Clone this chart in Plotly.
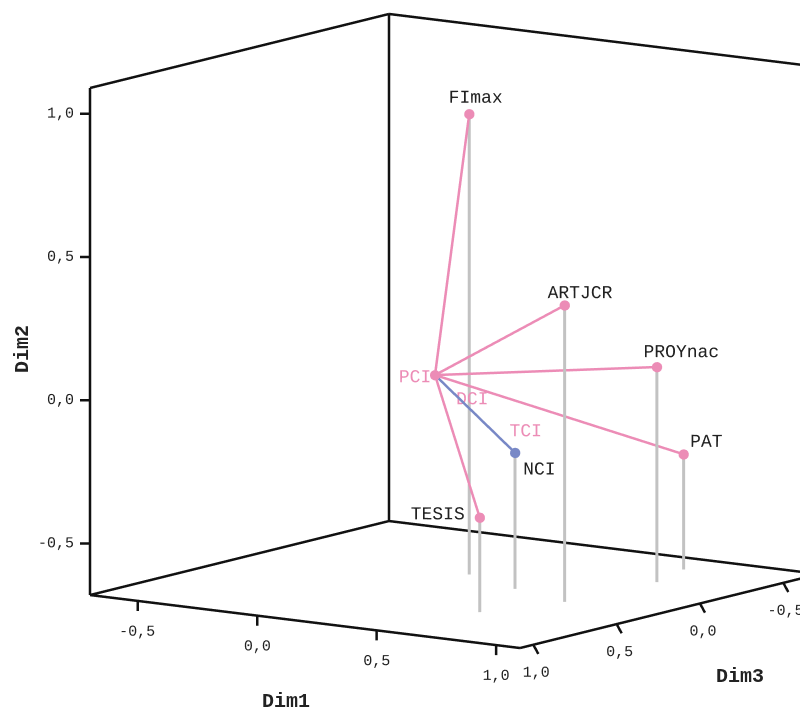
import plotly.graph_objects as go
import numpy as np

# ---- data ----
point_labels = ["FImax", "ARTJCR", "PROYnac", "PAT", "NCI", "TESIS"]
dim1 = [0.127, 0.703, 0.739, 0.670, 0.418, 0.582]
dim2 = [0.927, 0.355, 0.071, -0.278, -0.205, -0.350]
dim3 = [-0.010, 0.243, -0.259, -0.518, 0.132, 0.579]
point_colors = ["pink", "pink", "pink", "pink", "blue", "pink"]

hub_label = "PCI"
hub = (0.200, 0.068, 0.300)  # (dim1, dim2, dim3)

extra_labels = ["DCI", "TCI"]
extra_dim1 = [0.285, 0.507]
extra_dim2 = [-0.018, -0.107]
extra_dim3 = [0.200, 0.200]

range1 = [-0.70, 1.10]
range2 = [-0.68, 1.09]
range3 = [-0.714, 1.08]
tick_vals = [-0.5, 0.0, 0.5, 1.0]
tick_text = ["-0,5", "0,0", "0,5", "1,0"]

# ---- styling ----
# label offsets from their point in screen pixels (right, down)
label_offsets = [(6.7, -17.3), (15, -13.3), (24.3, -16), (23, -13.6), (24, 15.6), (-42.3, -4.4)]
hub_label_offset = (-20.3, 1.0)

PINK = "#ec8cb6"
BLUE = "#7888c6"
GREY = "#c2c2c2"
TXT = "#222222"
cmap = {"pink": PINK, "blue": BLUE}
FONT = "Liberation Mono"
LW = 5

# view geometry (orthographic camera)
elev = np.radians(10.06)
azim = np.radians(35.21)
PXU = np.array([289.0, 292.3, 290.9])  # px per data unit along plotly x (Dim3), y (Dim1), z (Dim2)
right_vec = np.array([-np.sin(azim), np.cos(azim), 0.0])
up_vec = np.array([-np.sin(elev) * np.cos(azim), -np.sin(elev) * np.sin(azim), np.cos(elev)])
view_vec = np.array([np.cos(elev) * np.cos(azim), np.cos(elev) * np.sin(azim), np.sin(elev)])

def px_offset(dx, dy):
    """3D data-space offset (plotly x, y, z) that moves a point dx px right and dy px down."""
    v = right_vec * dx - up_vec * dy
    return v / PXU

fig = go.Figure()

x0, x1 = range3  # plotly x = Dim3
y0, y1 = range1  # plotly y = Dim1
z0, z1 = range2  # plotly z = Dim2
PAD = 0.2

# box frame (back walls + floor front edges)
def seg(L, a, b):
    L[0].extend([a[0], b[0], None]); L[1].extend([a[1], b[1], None]); L[2].extend([a[2], b[2], None])
F = ([], [], [])
seg(F, (x1, y0, z0), (x1, y1, z0))
seg(F, (x1, y1, z0), (x0, y1, z0))
seg(F, (x1, y0, z0), (x0, y0, z0))
seg(F, (x0, y0, z0), (x0, y1, z0))
seg(F, (x1, y0, z0), (x1, y0, z1))
seg(F, (x0, y0, z0), (x0, y0, z1))
seg(F, (x0, y1, z0), (x0, y1, z1))
seg(F, (x1, y0, z1), (x0, y0, z1))
seg(F, (x0, y0, z1), (x0, y1, z1))

# tick marks
for v in tick_vals:
    seg(F, (x1, v, z0), (x1, v, z0 - 0.035))                       # Dim1
    seg(F, (v, y1, z0), (v, y1 + 0.021, z0 - 0.030))               # Dim3
    seg(F, (x1, y0, v), (x1 + 0.0199, y0 - 0.028, v))              # Dim2
fig.add_trace(go.Scatter3d(x=F[0], y=F[1], z=F[2], mode="lines",
                           line=dict(color="#111111", width=LW),
                           hoverinfo="skip", showlegend=False))

# tick labels
tfont = dict(family=FONT, size=15, color=TXT)
fig.add_trace(go.Scatter3d(x=[x1] * 4, y=tick_vals, z=[z0 - 0.108] * 4, mode="text",
                           text=tick_text, textposition="middle center", textfont=tfont,
                           hoverinfo="skip", showlegend=False))
fig.add_trace(go.Scatter3d(x=tick_vals, y=[y1 + 0.012] * 4, z=[z0 - 0.097] * 4, mode="text",
                           text=tick_text, textposition="middle center", textfont=tfont,
                           hoverinfo="skip", showlegend=False))
o2 = px_offset(-2, 0)
fig.add_trace(go.Scatter3d(x=[x1 + o2[0]] * 4, y=[y0 + o2[1]] * 4, z=tick_vals, mode="text",
                           text=tick_text, textposition="middle left", textfont=tfont,
                           hoverinfo="skip", showlegend=False))

# drop lines
D = ([], [], [])
for a, b, c in zip(dim1, dim2, dim3):
    seg(D, (c, a, b), (c, a, z0))
fig.add_trace(go.Scatter3d(x=D[0], y=D[1], z=D[2], mode="lines",
                           line=dict(color=GREY, width=LW + 1),
                           hoverinfo="skip", showlegend=False))

# spokes from hub
for a, b, c, col in zip(dim1, dim2, dim3, point_colors):
    fig.add_trace(go.Scatter3d(x=[hub[2], c], y=[hub[0], a], z=[hub[1], b],
                               mode="lines", line=dict(color=cmap[col], width=LW),
                               hoverinfo="skip", showlegend=False))

# points
fig.add_trace(go.Scatter3d(x=dim3 + [hub[2]], y=dim1 + [hub[0]], z=dim2 + [hub[1]],
                           mode="markers",
                           marker=dict(size=6, color=[cmap[c] for c in point_colors] + [PINK],
                                       line=dict(width=0)),
                           hoverinfo="skip", showlegend=False))

# point labels
lx, ly, lz = [], [], []
for a, b, c, (ox, oy) in zip(dim1, dim2, dim3, label_offsets):
    o = px_offset(ox, oy)
    lx.append(c + o[0]); ly.append(a + o[1]); lz.append(b + o[2])
fig.add_trace(go.Scatter3d(x=lx, y=ly, z=lz, mode="text", text=point_labels,
                           textposition="middle center",
                           textfont=dict(family=FONT, size=18, color=TXT),
                           hoverinfo="skip", showlegend=False))
o = px_offset(*hub_label_offset)
fig.add_trace(go.Scatter3d(x=[hub[2] + o[0]] + extra_dim3, y=[hub[0] + o[1]] + extra_dim1,
                           z=[hub[1] + o[2]] + extra_dim2, mode="text",
                           text=[hub_label] + extra_labels, textposition="middle center",
                           textfont=dict(family=FONT, size=18, color=PINK),
                           hoverinfo="skip", showlegend=False))

axis_common = dict(showbackground=False, showgrid=False, zeroline=False, showline=False,
                   showspikes=False, ticks="", showticklabels=False, title=dict(text=""))

# scale and image shift
S = 1.781
P = 709 / 2.0                       # px per scene unit (orthographic)
shift = 42.5 * right_vec + 31.5 * up_vec
center = -shift / P
eye = view_vec * 1.5 + center
fig.update_layout(
    width=808, height=709, margin=dict(l=0, r=0, t=0, b=0),
    paper_bgcolor="white",
    scene=dict(
        domain=dict(x=[0, 1], y=[0, 1]),
        xaxis=dict(range=[x0 - PAD, x1 + PAD], autorange=False, **axis_common),
        yaxis=dict(range=[y0 - PAD, y1 + PAD], autorange=False, **axis_common),
        zaxis=dict(range=[z0 - PAD, z1 + PAD], autorange=False, **axis_common),
        aspectmode="manual", aspectratio=dict(x=1.0044 * S, y=1.0187 * S, z=1.0 * S),
        camera=dict(eye=dict(x=eye[0], y=eye[1], z=eye[2]), up=dict(x=0, y=0, z=1),
                    center=dict(x=center[0], y=center[1], z=center[2]),
                    projection=dict(type="orthographic")),
    ),
    annotations=[
        dict(text="<b>Dim1</b>", x=278/808, y=1-693/709, xref="paper", yref="paper",
             xanchor="center", yanchor="middle",
             showarrow=False, font=dict(family=FONT, size=20, color=TXT)),
        dict(text="<b>Dim3</b>", x=732/808, y=1-668/709, xref="paper", yref="paper",
             xanchor="center", yanchor="middle",
             showarrow=False, font=dict(family=FONT, size=20, color=TXT)),
        dict(text="<b>Dim2</b>", x=15/808, y=1-341/709, xref="paper", yref="paper",
             xanchor="center", yanchor="middle",
             showarrow=False, textangle=-90, font=dict(family=FONT, size=20, color=TXT)),
    ],
)
fig.write_html("out.html", config={"displayModeBar": False})
